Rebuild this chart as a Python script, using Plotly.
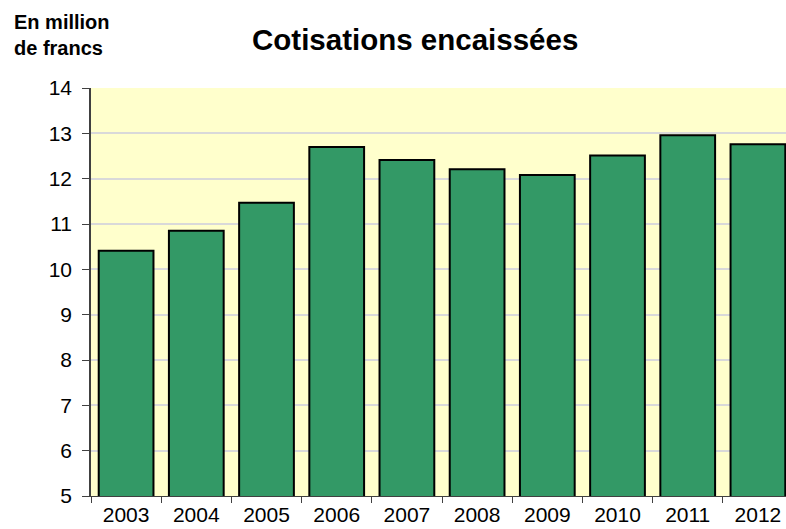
import plotly.graph_objects as go

years = ["2003", "2004", "2005", "2006", "2007", "2008", "2009", "2010", "2011", "2012"]
cotisations = [10.41, 10.85, 11.47, 12.70, 12.41, 12.21, 12.08, 12.51, 12.96, 12.76]
y_ticks = [5, 6, 7, 8, 9, 10, 11, 12, 13, 14]

W, H = 786, 529
ML, MR, MT, MB = 91, 0, 88, 33

fig = go.Figure()
fig.add_trace(go.Bar(
    x=years, y=cotisations,
    marker=dict(color="#339966", line=dict(color="#000000", width=2)),
    width=0.78,
))

pw, ph = W - ML - MR, H - MT - MB


def px_to_paper(x, y):
    return (x - ML) / pw, (H - MB - y) / ph


tx, ty = px_to_paper(415, 40)
ux, uy = px_to_paper(12, 35)

fig.update_layout(
    width=W, height=H,
    margin=dict(l=ML, r=MR, t=MT, b=MB),
    paper_bgcolor="white",
    plot_bgcolor="#FFFFCC",
    font=dict(family="Liberation Sans, Arial, sans-serif", color="#000000"),
    showlegend=False,
    annotations=[
        dict(text="<b>Cotisations encaissées</b>", x=tx, y=ty, xref="paper", yref="paper",
             showarrow=False, font=dict(size=29.5), xanchor="center", yanchor="middle"),
        dict(text="<b>En million<br>de francs</b>", x=ux, y=uy, xref="paper", yref="paper",
             showarrow=False, font=dict(size=20), xanchor="left", yanchor="middle", align="left"),
    ],
)

fig.update_xaxes(
    type="category", range=[-0.5, 9.4],
    showline=True, linecolor="#404040", linewidth=1,
    ticks="outside", tickson="boundaries", ticklen=6, tickcolor="#404040",
    tickfont=dict(size=21), showgrid=False,
)
fig.update_yaxes(
    range=[5, 14], tickvals=y_ticks,
    showline=True, linecolor="#404040", linewidth=1.5,
    ticks="outside", ticklen=7, tickcolor="#404040",
    ticklabelstandoff=6,
    tickfont=dict(size=21),
    showgrid=True, gridcolor="#D9D9D9", gridwidth=1.5,
    zeroline=False,
)

fig.write_html(
    "out.html",
    config={"displayModeBar": False},
    post_script="document.body.style.margin='0';document.body.style.overflow='hidden';",
)
